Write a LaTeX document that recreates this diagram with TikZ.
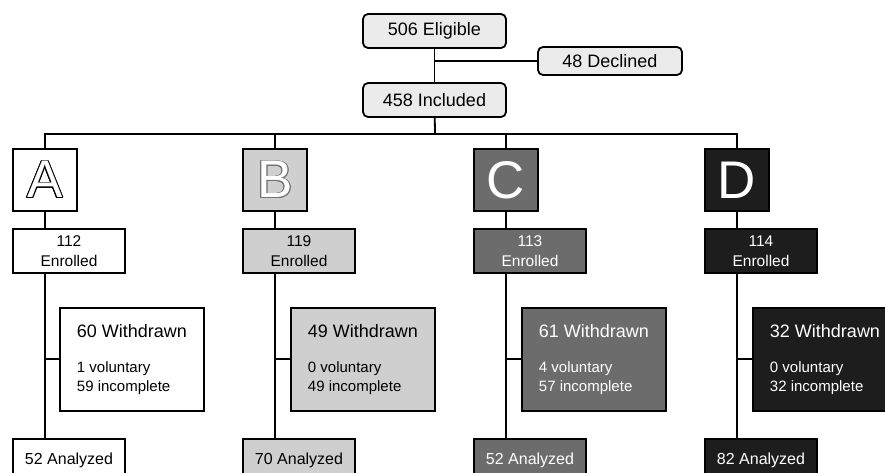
\documentclass[tikz,border=0pt]{standalone}
\usepackage{fontspec}
\setmainfont{Liberation Sans}
\usepackage{xcolor}
\usepackage{contour}
\usetikzlibrary{positioning}
\definecolor{topgray}{HTML}{EBEBEB}
\definecolor{lgray}{HTML}{CFCFCF}
\definecolor{mgray}{HTML}{6C6C6C}
\definecolor{dgray}{HTML}{1D1D1D}
\contourlength{0.8pt}
\begin{document}
\begin{tikzpicture}[x=1pt,y=1pt,line width=1.8pt,
topb/.style={draw,rounded corners=5pt,fill=topgray,minimum width=143pt,minimum height=34pt,inner sep=0pt,font=\fontsize{18}{20}\selectfont},
grp/.style={draw,minimum width=64pt,minimum height=62pt,inner sep=0pt,font=\fontsize{53}{53}\selectfont},
enr/.style={draw,minimum width=112pt,minimum height=44pt,inner sep=0pt,align=center,font=\fontsize{15.5}{20}\selectfont},
wd/.style={draw,minimum width=144pt,minimum height=103pt,inner sep=0pt,align=left,font=\fontsize{15}{19.5}\selectfont},
anl/.style={draw,minimum width=112pt,minimum height=44pt,inner sep=0pt,font=\fontsize{16}{19}\selectfont}]
\useasboundingbox (0,0) rectangle (885,-473);
\clip (0,0) rectangle (885,-473);
% recruitment
\node[topb] (el) at (434.5,-31) {506 Eligible};
\node[topb,minimum width=144pt,minimum height=28pt] (dc) at (610,-61) {48 Declined};
\node[topb] (inc) at (434.5,-100) {458 Included};
\draw (el)--(inc); \draw (dc)--(dc -| el);
\coordinate (bus) at (435,-134);
% group A
\node[grp,fill=white] (la) at (45,-180) {{\color{white}\contour{black}{A}}};
\node[enr,fill=white,below right=16pt and 0pt of la.south west] (ea) {112\\Enrolled};
\node[wd,fill=white,below right=33pt and 47pt of ea.south west] (wa) {{\fontsize{18}{20}\selectfont\rule{0pt}{14pt}60 Withdrawn}\\[15.5pt]1 voluntary\\59 incomplete};
\node[anl,fill=white,below right=164pt and 0pt of ea.south west] (aa) {52 Analyzed};
% group B
\node[grp,fill=lgray] (lb) at (275,-180) {{\color{white}\contour{black!55}{B}}};
\node[enr,fill=lgray,below right=16pt and 0pt of lb.south west] (eb) {119\\Enrolled};
\node[wd,fill=lgray,below right=33pt and 48pt of eb.south west] (wb) {{\fontsize{18}{20}\selectfont\rule{0pt}{14pt}49 Withdrawn}\\[15.5pt]0 voluntary\\49 incomplete};
\node[anl,fill=lgray,below right=164pt and 0pt of eb.south west] (ab) {70 Analyzed};
% group C
\node[grp,fill=mgray,text=white] (lc) at (506,-180) {C};
\node[enr,fill=mgray,text=white,below right=16pt and 0pt of lc.south west] (ec) {113\\Enrolled};
\node[wd,fill=mgray,text=white,below right=33pt and 48pt of ec.south west] (wc) {{\fontsize{18}{20}\selectfont\rule{0pt}{14pt}61 Withdrawn}\\[15.5pt]4 voluntary\\57 incomplete};
\node[anl,fill=mgray,text=white,below right=164pt and 0pt of ec.south west] (ac) {52 Analyzed};
% group D
\node[grp,fill=dgray,text=white] (ld) at (737,-180) {D};
\node[enr,fill=dgray,text=white,below right=16pt and 0pt of ld.south west] (ed) {114\\Enrolled};
\node[wd,fill=dgray,text=white,below right=33pt and 48pt of ed.south west] (wdd) {{\fontsize{18}{20}\selectfont\rule{0pt}{14pt}32 Withdrawn}\\[15.5pt]0 voluntary\\32 incomplete};
\node[anl,fill=dgray,text=white,below right=164pt and 0pt of ed.south west] (ad) {82 Analyzed};
% connectors
\draw (inc)--(bus); \draw (la) |- (bus) -| (ld); \draw (lb)--(lb |- bus); \draw (lc)--(lc |- bus);
\draw (la)--(la |- ea.north); \draw (la |- ea.south)--(la |- aa.north); \draw (wa)--(wa -| la);
\draw (lb)--(lb |- eb.north); \draw (lb |- eb.south)--(lb |- ab.north); \draw (wb)--(wb -| lb);
\draw (lc)--(lc |- ec.north); \draw (lc |- ec.south)--(lc |- ac.north); \draw (wc)--(wc -| lc);
\draw (ld)--(ld |- ed.north); \draw (ld |- ed.south)--(ld |- ad.north); \draw (wdd)--(wdd -| ld);
\end{tikzpicture}
\end{document}
